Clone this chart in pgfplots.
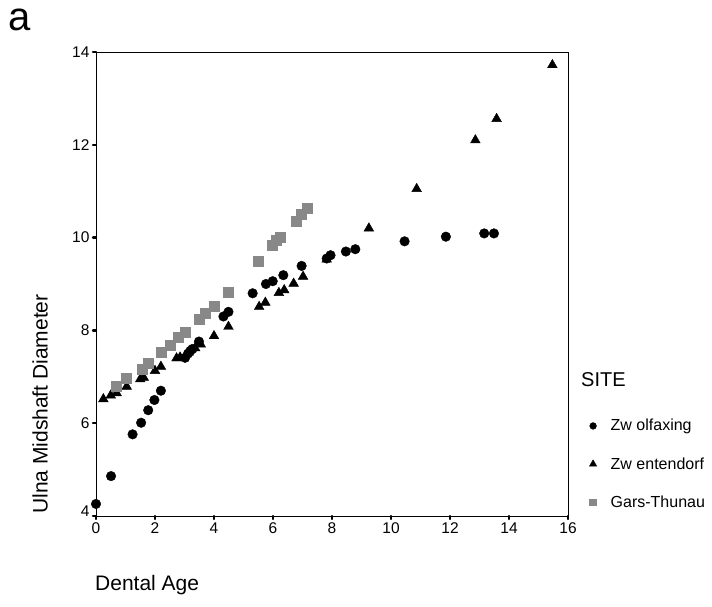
\documentclass[border=0pt]{standalone}
\usepackage{fontspec}
\setmainfont{Liberation Sans}
\usepackage{pgfplots}
\pgfplotsset{compat=1.18}
\definecolor{gtgray}{RGB}{136,136,136}

\begin{document}
\begin{tikzpicture}
\useasboundingbox (-96pt,-90pt) rectangle (616pt,516pt);
\begin{axis}[
  at={(0pt,0pt)}, anchor=south west,
  scale only axis, width=472pt, height=464pt,
  xmin=0, xmax=16, ymin=4, ymax=14,
  xtick={0,2,...,16}, xticklabels={0,2,4,6,8,10,12,14,16},
  ytick={4,6,...,14}, yticklabels={\raisebox{10pt}{4},6,8,10,12,14},
  xtick pos=lower, ytick pos=left, tick align=outside,
  major tick length=3pt,
  every tick/.style={black, line width=2.4pt, line cap=round},
  axis line style={line width=0.8pt},
  ticklabel style={font=\fontsize{15.5}{18}\selectfont},
  clip=false,
  legend image code/.code={\draw plot coordinates {(0pt,0pt)};},
  legend style={at={(axis description cs:1.045,0.112)}, anchor=west,
    draw=none, fill=none, inner sep=0pt, row sep=25pt,
    font=\fontsize{16}{18}\selectfont, nodes={inner sep=0pt},
    /tikz/every odd column/.append style={column sep=14pt}},
  legend cell align=left,
]
% Zwolfaxing
\addplot[only marks, mark=*, mark size=4.8pt, mark options={solid, black, line width=0.4pt},
  legend image post style={mark size=3.4pt}] table {
x y
0.00 4.26
0.51 4.86
1.24 5.76
1.53 6.01
1.77 6.28
1.98 6.50
2.20 6.70
3.02 7.41
3.12 7.50
3.20 7.56
3.27 7.60
3.49 7.76
4.32 8.30
4.49 8.40
5.31 8.80
5.76 9.00
5.99 9.06
6.35 9.19
6.97 9.39
7.82 9.55
7.95 9.62
8.47 9.70
8.79 9.75
10.46 9.92
11.86 10.02
13.16 10.09
13.49 10.09
};
\addlegendentry{Zw olfaxing}
% Zwentendorf
\addplot[only marks, mark=triangle*, mark size=5.6pt, mark options={solid, black, line width=0.4pt},
  legend image post style={mark size=4.2pt}] table {
x y
0.25 6.52
0.50 6.60
0.70 6.65
1.04 6.79
1.50 6.95
1.62 6.98
2.00 7.13
2.20 7.22
2.73 7.40
2.85 7.42
3.13 7.52
3.36 7.62
3.55 7.70
4.00 7.88
4.49 8.08
5.53 8.51
5.74 8.60
6.20 8.81
6.38 8.87
6.70 9.01
7.02 9.16
7.82 9.53
9.25 10.20
10.87 11.05
12.86 12.10
13.58 12.56
15.47 13.72
};
\addlegendentry{Zw entendorf}
% Gars-Thunau
\addplot[only marks, mark=square*, mark size=5.0pt, mark options={solid, gtgray, line width=0.4pt},
  legend image post style={mark size=3.4pt}] table {
x y
0.70 6.79
1.04 6.97
1.55 7.17
1.77 7.30
2.20 7.54
2.51 7.68
2.79 7.85
3.02 7.97
3.49 8.24
3.69 8.37
4.01 8.53
4.49 8.82
5.50 9.49
5.97 9.83
6.12 9.95
6.25 10.01
6.77 10.35
6.97 10.51
7.17 10.64
};
\addlegendentry{Gars-Thunau}
\end{axis}
\node[inner sep=0pt, font=\fontsize{40}{44}\selectfont] at (-76.5pt,496.5pt) {a};
\node[inner sep=0pt, rotate=90, font=\fontsize{21}{24}\selectfont] at (-56pt,112pt) {Ulna Midshaft Diameter};
\node[inner sep=0pt, anchor=west, font=\fontsize{21}{24}\selectfont] at (-1pt,-69pt) {Dental Age};
\node[inner sep=0pt, anchor=west, font=\fontsize{20}{24}\selectfont] at (485pt,136pt) {SITE};
\end{tikzpicture}
\end{document}
